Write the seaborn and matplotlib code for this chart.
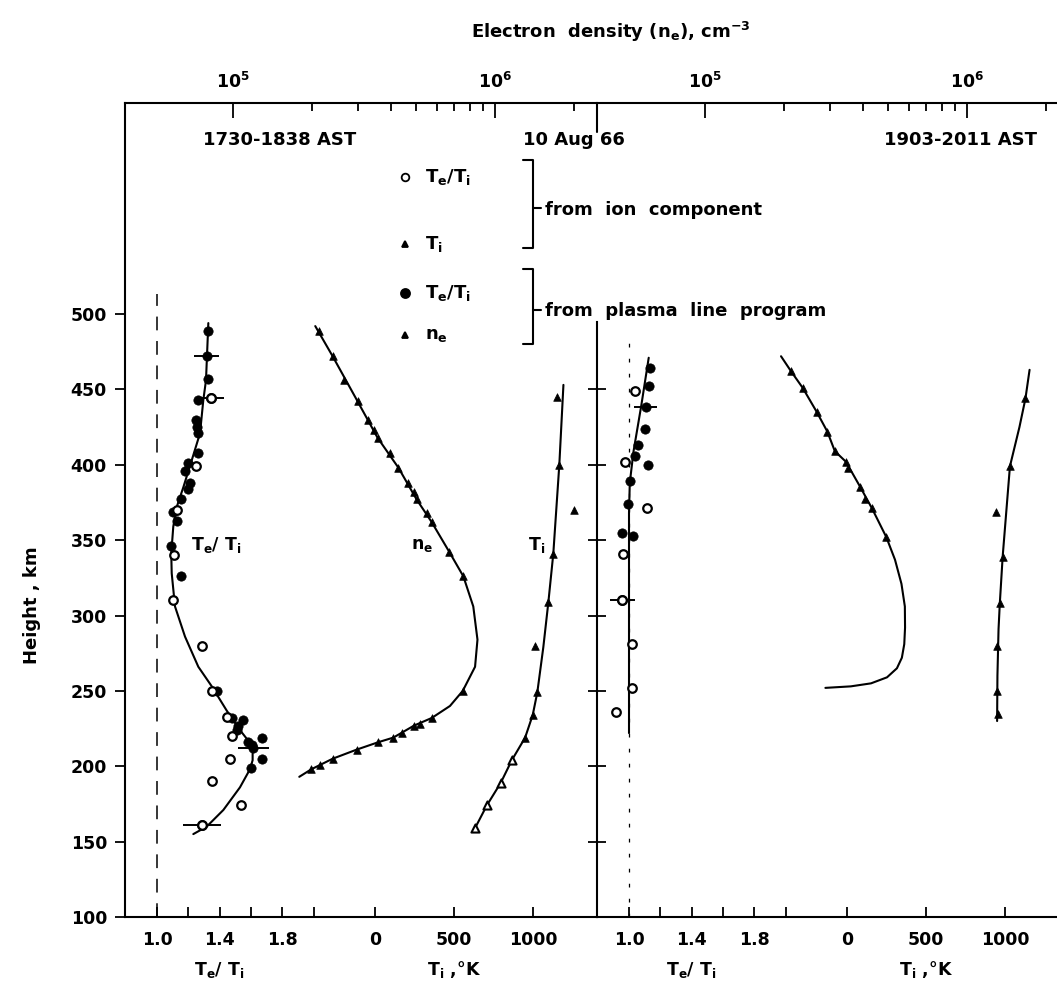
import numpy as np
import pandas as pd
import seaborn as sns
import matplotlib.pyplot as plt
from matplotlib.ticker import FixedLocator, FixedFormatter, NullFormatter
from matplotlib.lines import Line2D

sns.set_style('ticks')
plt.rcParams['font.family'] = ['DejaVu Sans']
plt.rcParams['mathtext.default'] = 'regular'
for k in ['text.color', 'axes.labelcolor', 'xtick.color', 'ytick.color', 'axes.edgecolor']:
    plt.rcParams[k] = 'black'
plt.rcParams['font.weight'] = 'bold'

# ---------------- 1730-1838 AST (left panel) ----------------
# Te/Ti fitted curve
tr_curve_L = [1.328, 1.313, 1.296, 1.275, 1.222, 1.168, 1.126, 1.104, 1.091, 1.094, 1.115, 1.179,
              1.264, 1.350, 1.445, 1.530, 1.583, 1.611, 1.611, 1.594, 1.530, 1.424, 1.318, 1.232]
h_tr_curve_L = [494, 456, 443, 421, 403, 385, 372, 359, 341, 328, 306, 286,
                266, 253, 237, 224, 217, 211, 204, 198, 186, 171, 160, 155]
# Te/Ti from plasma line (filled)
tr_pl_L = [1.324, 1.324, 1.264, 1.247, 1.254, 1.260, 1.264, 1.200, 1.179, 1.211, 1.196, 1.151, 1.100,
           1.126, 1.087, 1.151, 1.381, 1.477, 1.551, 1.520, 1.509, 1.669, 1.583, 1.605, 1.669, 1.599]
h_tr_pl_L = [489, 457, 443, 430, 425, 421, 408, 401, 396, 388, 384, 377, 369,
             363, 346, 326, 250, 232, 231, 227, 224, 219, 216, 214, 205, 199]
tr_pl_err_L = [1.318, 1.615]
h_tr_pl_err_L = [472, 212]
err_pl_L = [0.08, 0.10]
# Te/Ti from ion component (open)
tr_ion_L = [1.345, 1.249, 1.126, 1.110, 1.104, 1.286, 1.350, 1.445, 1.477, 1.466, 1.350, 1.535, 1.286]
h_tr_ion_L = [444, 399, 370, 340, 310, 280, 250, 233, 220, 205, 190, 174, 161]
tr_ion_err_L = [1.345, 1.286]
h_tr_ion_err_L = [444, 161]
err_ion_L = [0.08, 0.12]

# Ti curve and points
ti_curve_L = [632, 706, 794, 864, 948, 996, 1025, 1063, 1095, 1126, 1164, 1190]
h_ti_curve_L = [159, 174, 189, 204, 219, 234, 249, 279, 309, 341, 400, 453]
ti_pts_L = [1148, 1164, 1259, 1126, 1095, 1011, 1025, 996, 948]
h_ti_pts_L = [445, 400, 370, 341, 309, 280, 249, 234, 219]
ti_open_L = [864, 794, 706, 632]
h_ti_open_L = [204, 189, 174, 159]

# electron density curve and points (cm^-3)
ne_curve_L = [2.06e5, 2.40e5, 2.99e5, 3.56e5, 4.28e5, 5.02e5, 5.73e5, 6.70e5, 7.57e5, 8.26e5,
              8.57e5, 8.39e5, 7.53e5, 6.73e5, 5.73e5, 4.91e5, 4.09e5, 3.59e5, 2.96e5, 2.40e5, 1.99e5, 1.79e5]
h_ne_curve_L = [492, 472, 442, 418, 398, 377, 362, 342, 326, 306,
                284, 266, 250, 240, 232, 227, 219, 216, 211, 205, 198, 193]
ne_pts_L = [2.12e5, 2.40e5, 2.66e5, 2.99e5, 3.27e5, 3.44e5, 3.56e5, 3.97e5, 4.28e5, 4.67e5, 4.91e5,
            5.02e5, 5.48e5, 5.73e5, 6.70e5, 7.57e5, 7.53e5, 5.73e5, 5.18e5, 4.91e5, 4.41e5, 4.09e5,
            3.59e5, 2.96e5, 2.40e5, 2.15e5, 1.99e5]
h_ne_pts_L = [489, 472, 456, 442, 430, 423, 418, 408, 398, 388, 382,
              377, 368, 362, 342, 326, 250, 232, 228, 227, 222, 219,
              216, 211, 205, 201, 198]

# ---------------- 1903-2011 AST (right panel) ----------------
tr_curve_R = [1.126, 1.078, 1.029, 1.005, 1.000, 1.000]
h_tr_curve_R = [471, 439, 409, 388, 368, 222]
tr_pl_R = [1.131, 1.126, 1.102, 1.058, 1.041, 1.119, 1.005, 0.993, 0.956, 1.024]
h_tr_pl_R = [464, 452, 424, 413, 406, 400, 389, 374, 355, 353]
tr_pl_err_R = [1.107]
h_tr_pl_err_R = [438]
err_pl_R = [0.075]
tr_ion_R = [1.036, 0.976, 1.114, 0.961, 0.956, 1.017, 1.017, 0.920]
h_tr_ion_R = [449, 402, 371, 341, 310, 281, 252, 236]
tr_ion_err_R = [0.956]
h_tr_ion_err_R = [310]
err_ion_R = [0.08]

ti_curve_R = [1153, 1127, 1089, 1029, 983, 965, 957, 950, 948]
h_ti_curve_R = [463, 444, 425, 399, 339, 308, 291, 260, 230]
ti_pts_R = [1127, 1029, 940, 983, 965, 950, 948, 952]
h_ti_pts_R = [444, 399, 369, 339, 308, 280, 250, 235]

ne_curve_R = [1.95e5, 2.13e5, 2.36e5, 2.67e5, 2.93e5, 3.13e5, 3.45e5, 3.92e5, 4.34e5, 4.92e5,
              5.31e5, 5.62e5, 5.79e5, 5.80e5, 5.76e5, 5.64e5, 5.40e5, 4.95e5, 4.30e5, 3.60e5, 2.88e5]
h_ne_curve_R = [472, 462, 451, 435, 422, 409, 402, 385, 371, 352,
                337, 321, 306, 292, 281, 272, 265, 259, 255, 253, 252]
ne_pts_R = [2.13e5, 2.36e5, 2.67e5, 2.93e5, 3.13e5, 3.45e5, 3.52e5, 3.92e5, 4.08e5, 4.34e5, 4.92e5]
h_ne_pts_R = [462, 451, 435, 422, 409, 402, 398, 385, 377, 371, 352]

height_ticks = [100, 150, 200, 250, 300, 350, 400, 450, 500]
ratio_ticks = [1.0, 1.2, 1.4, 1.6, 1.8, 2.0]
ratio_labels = ['1.0', '', '1.4', '', '1.8', '']
temp_ticks = [0, 500, 1000]
temp_labels = ['0', '500', '1000']
dens_ticks = [1e5, 1e6]
dens_labels = ['$10^5$', '$10^6$']
dens_minor = [2e5, 3e5, 4e5, 5e5, 6e5, 7e5, 8e5, 9e5, 2e6]

W, H = 1057, 985
fig = plt.figure(figsize=(W / 100, H / 100), dpi=100)
fig.patch.set_facecolor('white')


def px(x, y):
    return x / W, 1 - y / H


def rect(x0, x1, y0=103, y1=917):
    return [x0 / W, 1 - y1 / H, (x1 - x0) / W, (y1 - y0) / H]


FS = 12.5
LW = 1.5


def make_panel(x0, x1):
    ax_r = fig.add_axes(rect(x0, x1))
    ax_t = fig.add_axes(rect(x0, x1), sharey=ax_r)
    ax_n = fig.add_axes(rect(x0, x1), sharey=ax_r)
    for a in (ax_t, ax_n):
        a.patch.set_visible(False)
        for s in a.spines.values():
            s.set_visible(False)
        a.tick_params(axis='y', left=False, right=False, labelleft=False)
    for s in ax_r.spines.values():
        s.set_linewidth(LW)
    ax_r.spines['right'].set_visible(False)
    ax_r.set_ylim(100, 640)
    ax_r.set_xlim(0.7955, 3.8115)
    ax_t.set_xlim(-1579, 1402)
    ax_n.set_xscale('log')
    ax_n.set_xlim(3.87e4, 2.45e6)

    ax_r.xaxis.set_major_locator(FixedLocator(ratio_ticks))
    ax_r.xaxis.set_major_formatter(FixedFormatter(ratio_labels))
    ax_r.xaxis.set_minor_locator(FixedLocator([]))
    ax_t.xaxis.set_major_locator(FixedLocator(temp_ticks))
    ax_t.xaxis.set_major_formatter(FixedFormatter(temp_labels))
    ax_t.xaxis.set_minor_locator(FixedLocator([]))
    for a in (ax_r, ax_t):
        a.tick_params(axis='x', direction='in', length=7, width=1.3, labelsize=FS, pad=10)

    ax_n.xaxis.set_ticks_position('top')
    ax_n.xaxis.set_label_position('top')
    ax_n.xaxis.set_major_locator(FixedLocator(dens_ticks))
    ax_n.xaxis.set_major_formatter(FixedFormatter(dens_labels))
    ax_n.xaxis.set_minor_locator(FixedLocator(dens_minor))
    ax_n.xaxis.set_minor_formatter(NullFormatter())
    ax_n.tick_params(axis='x', which='major', direction='in', length=11, width=1.3,
                     labelsize=FS, pad=8)
    ax_n.tick_params(axis='x', which='minor', direction='in', length=6, width=1.3)

    ax_r.text(1.4, -0.065, 'T$_e$/ T$_i$', transform=ax_r.get_xaxis_transform(),
              ha='center', va='center', fontsize=FS)
    ax_t.text(500, -0.065, 'T$_i$ ,°K', transform=ax_t.get_xaxis_transform(),
              ha='center', va='center', fontsize=FS)
    return ax_r, ax_t, ax_n


def draw(ax_r, ax_t, ax_n, d):
    sns.lineplot(x=d['trc'], y=d['htrc'], sort=False, estimator=None, ax=ax_r, color='k', lw=1.5)
    ax_r.errorbar(d['tre_pl'], d['htre_pl'], xerr=d['e_pl'], fmt='none', ecolor='k', elinewidth=1.4)
    ax_r.errorbar(d['tre_ion'], d['htre_ion'], xerr=d['e_ion'], fmt='none', ecolor='k', elinewidth=1.4)
    sns.scatterplot(x=d['trp'] + d['tre_pl'], y=d['htrp'] + d['htre_pl'], ax=ax_r, marker='o', s=45,
                    color='black', edgecolor='black', linewidth=0.5, zorder=3)
    sns.scatterplot(x=d['tri'] + d['tre_ion'], y=d['htri'] + d['htre_ion'], ax=ax_r, marker='o', s=38,
                    color='white', edgecolor='black', linewidth=1.6, zorder=4)

    sns.lineplot(x=d['tic'], y=d['htic'], sort=False, estimator=None, ax=ax_t, color='k', lw=1.5)
    sns.scatterplot(x=d['tip'], y=d['htip'], ax=ax_t, marker='^', s=30,
                    color='black', edgecolor='black', linewidth=0.5, zorder=3)
    if d['tio']:
        sns.scatterplot(x=d['tio'], y=d['htio'], ax=ax_t, marker='^', s=34,
                        color='white', edgecolor='black', linewidth=1.5, zorder=3)

    sns.lineplot(x=d['nec'], y=d['hnec'], sort=False, estimator=None, ax=ax_n, color='k', lw=1.5)
    sns.scatterplot(x=d['nep'], y=d['hnep'], ax=ax_n, marker='^', s=30,
                    color='black', edgecolor='black', linewidth=0.5, zorder=3)
    for a in (ax_r, ax_t, ax_n):
        a.set_xlabel('')
        a.set_ylabel('')


# left panel
axL = make_panel(125, 597)
axL[0].yaxis.set_major_locator(FixedLocator(height_ticks))
axL[0].tick_params(axis='y', direction='out', length=7, width=1.3, labelsize=FS, pad=6)
axL[0].axvline(1.0, ymin=0, ymax=(513 - 100) / 540, color='k', lw=1.1, ls=(0, (9, 7)))
draw(*axL, dict(trc=tr_curve_L, htrc=h_tr_curve_L, trp=tr_pl_L, htrp=h_tr_pl_L,
                tre_pl=tr_pl_err_L, htre_pl=h_tr_pl_err_L, e_pl=err_pl_L,
                tri=tr_ion_L, htri=h_tr_ion_L, tre_ion=tr_ion_err_L, htre_ion=h_tr_ion_err_L,
                e_ion=err_ion_L, tic=ti_curve_L, htic=h_ti_curve_L, tip=ti_pts_L, htip=h_ti_pts_L,
                tio=ti_open_L, htio=h_ti_open_L, nec=ne_curve_L, hnec=h_ne_curve_L,
                nep=ne_pts_L, hnep=h_ne_pts_L))
axL[0].text(1.22, 347, 'T$_e$/ T$_i$', fontsize=FS, ha='left', va='center')
axL[2].text(5.26e5, 347, 'n$_e$', fontsize=FS, ha='center', va='center')
axL[1].text(1023, 347, 'T$_i$', fontsize=FS, ha='center', va='center')

# right panel
axR = make_panel(597, 1069)
axR[0].spines['left'].set_bounds(100, 495)
axR[0].yaxis.set_major_locator(FixedLocator([150, 200, 250, 300, 350, 400, 450]))
axR[0].tick_params(axis='y', direction='inout', length=13, width=1.3, labelleft=False)
axR[0].axvline(0.7955, ymin=(917 - 132) / 814, ymax=1, color='k', lw=LW, clip_on=False)
axR[0].axvline(1.0, ymin=0, ymax=(485 - 100) / 540, color='k', lw=0.9, ls=(0, (3, 9)))
draw(*axR, dict(trc=tr_curve_R, htrc=h_tr_curve_R, trp=tr_pl_R, htrp=h_tr_pl_R,
                tre_pl=tr_pl_err_R, htre_pl=h_tr_pl_err_R, e_pl=err_pl_R,
                tri=tr_ion_R, htri=h_tr_ion_R, tre_ion=tr_ion_err_R, htre_ion=h_tr_ion_err_R,
                e_ion=err_ion_R, tic=ti_curve_R, htic=h_ti_curve_R, tip=ti_pts_R, htip=h_ti_pts_R,
                tio=[], htio=[], nec=ne_curve_R, hnec=h_ne_curve_R,
                nep=ne_pts_R, hnep=h_ne_pts_R))

# titles and annotations
fig.text(*px(611, 32), 'Electron  density (n$_e$), cm$^{-3}$', ha='center', va='center', fontsize=13)
fig.text(*px(280, 140), '1730-1838 AST', ha='center', va='center', fontsize=13)
fig.text(*px(574, 140), '10 Aug 66', ha='center', va='center', fontsize=13)
fig.text(*px(960, 140), '1903-2011 AST', ha='center', va='center', fontsize=13)
fig.text(*px(32, 605), 'Height , km', ha='center', va='center', rotation=90, fontsize=13)

# legend block
leg = [('o', 'white', 5.5, 177, 'T$_e$/T$_i$'),
       ('^', 'black', 5.0, 244, 'T$_i$'),
       ('o', 'black', 6.5, 293, 'T$_e$/T$_i$'),
       ('^', 'black', 5.0, 335, 'n$_e$')]
for mk, fc, ms, y, lab in leg:
    fig.add_artist(Line2D([px(405, y)[0]], [px(405, y)[1]], marker=mk, ms=ms, mfc=fc,
                          mec='black', mew=1.3, ls='none', transform=fig.transFigure))
    fig.text(*px(425, y), lab, ha='left', va='center', fontsize=13)

for y0, y1, ym in [(160, 248, 208), (269, 344, 310)]:
    xs = [523, 533, 533, 523]
    ys = [y0, y0, y1, y1]
    fig.add_artist(Line2D([x / W for x in xs], [1 - y / H for y in ys], color='k', lw=1.5,
                          transform=fig.transFigure))
    fig.add_artist(Line2D([533 / W, 541 / W], [1 - ym / H, 1 - ym / H], color='k', lw=1.5,
                          transform=fig.transFigure))
fig.text(*px(545, 210), 'from  ion  component', ha='left', va='center', fontsize=13)
fig.text(*px(545, 311), 'from  plasma  line  program', ha='left', va='center', fontsize=13)

fig.savefig('out.png', dpi=100, facecolor='white')
